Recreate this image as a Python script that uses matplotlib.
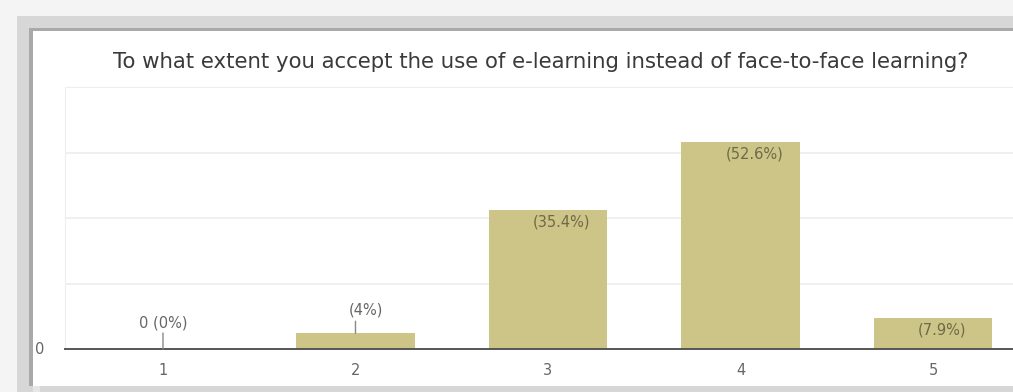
import matplotlib
matplotlib.use("Agg")
import matplotlib.pyplot as plt
from matplotlib.patches import Rectangle
import numpy as np

# Survey responses: share of respondents per rating
ratings = ["1", "2", "3", "4", "5"]
percent = [0.0, 4.0, 35.4, 52.6, 7.9]
labels = ["0 (0%)", "(4%)", "(35.4%)", "(52.6%)", "(7.9%)"]
title = "To what extent you accept the use of e-learning instead of face-to-face learning?"

W, H = 1013, 392
fig = plt.figure(figsize=(W / 100, H / 100), dpi=100)
fig.patch.set_facecolor("#f4f4f4")


def box(x0, y0, x1, y1, color):
    """Rectangle given in top-down pixel coordinates."""
    fig.add_artist(Rectangle((x0 / W, 1 - y1 / H), (x1 - x0) / W, (y1 - y0) / H,
                             transform=fig.transFigure, facecolor=color,
                             edgecolor="none", zorder=0))


# card frame with shadow bands
box(17, 16, W, H, "#d7d7d7")
box(29, 28, W, 386, "#a9a9a9")
box(33, 31, W, 386, "#ffffff")
box(33, 386, 40, H, "#e6e6e6")

ax_left, ax_bottom = 65, 349
ax_w, ax_h = 962.5, 262
ax = fig.add_axes([ax_left / W, 1 - ax_bottom / H, ax_w / W, ax_h / H])
ax.set_facecolor("none")

font = "DejaVu Sans"
x = np.arange(1, len(ratings) + 1)
bar_color = "#cdc488"
ax.bar(x, percent, width=0.615, color=bar_color, zorder=2)

ymax = 66.6
ax.set_xlim(0.491, 5.491)
ax.set_ylim(0, ymax)
ax.set_yticks(np.linspace(0, ymax, 5))
ax.yaxis.grid(True, color="#eeeeee", lw=1.2, zorder=0)
ax.tick_params(axis="y", length=0, labelleft=False)
ax.set_xticks(x)
ax.set_xticklabels(ratings, fontsize=10.5, color="#666666", family=font)
ax.tick_params(axis="x", length=0, pad=10)

ax.spines["right"].set_visible(False)
ax.spines["top"].set_color("#eeeeee")
ax.spines["left"].set_color("#eeeeee")
ax.spines["bottom"].set_color("#555555")
ax.spines["bottom"].set_linewidth(1.4)
ax.spines["bottom"].set_zorder(3)

# y-axis zero label
fig.text(40 / W, 1 - 349 / H, "0", ha="center", va="center", fontsize=10.5,
         color="#666666", family=font)

# value labels
inside_color = "#6e6948"
outside_color = "#666666"
lead = {0: (16, 0, 26, "center"), 1: (12, -7, 23, "left")}
for i, (xi, v, lab) in enumerate(zip(x, percent, labels)):
    if i in lead:
        ln, dx, dy, ha = lead[i]
        ax.annotate("", xy=(xi, v), xytext=(0, ln), textcoords="offset pixels",
                    arrowprops=dict(arrowstyle="-", color="#888888", lw=1.0,
                                    shrinkA=0, shrinkB=0), zorder=4)
        ax.annotate(lab, xy=(xi, v), xytext=(dx, dy), textcoords="offset pixels",
                    ha=ha, va="center", fontsize=10.5, color=outside_color,
                    family=font)
    else:
        ax.annotate(lab, xy=(xi, v), xytext=(-15, -12), textcoords="offset pixels",
                    ha="left", va="center", fontsize=10.5, color=inside_color,
                    family=font, zorder=4)

# title, sized to span the card width
t = fig.text(541 / W, 1 - 68 / H, title, ha="center", va="baseline", fontsize=14,
             color="#3a3a3a", family=font)
fig.canvas.draw()
w = t.get_window_extent().width
t.set_fontsize(14 * 862 / w)

fig.savefig("out.png", dpi=100, facecolor=fig.get_facecolor())
